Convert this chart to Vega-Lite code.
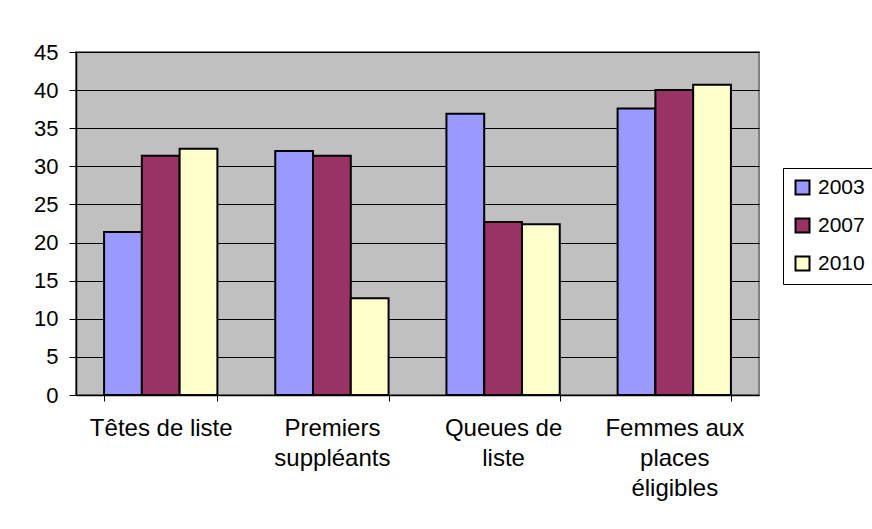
{
  "$schema": "https://vega.github.io/schema/vega-lite/v6.json",
  "autosize": "none",
  "width": 683,
  "height": 343,
  "padding": {"left": 76, "top": 52, "right": 113, "bottom": 134},
  "background": "white",
  "config": {
    "font": "Liberation Sans",
    "view": {"fill": "#C0C0C0", "stroke": "#808080", "strokeWidth": 2}
  },
  "data": {
    "values": [
      {"categorie": "Têtes de liste", "annee": "2003", "valeur": 21.4},
      {"categorie": "Têtes de liste", "annee": "2007", "valeur": 31.4},
      {"categorie": "Têtes de liste", "annee": "2010", "valeur": 32.3},
      {"categorie": "Premiers suppléants", "annee": "2003", "valeur": 32.0},
      {"categorie": "Premiers suppléants", "annee": "2007", "valeur": 31.4},
      {"categorie": "Premiers suppléants", "annee": "2010", "valeur": 12.7},
      {"categorie": "Queues de liste", "annee": "2003", "valeur": 36.9},
      {"categorie": "Queues de liste", "annee": "2007", "valeur": 22.7},
      {"categorie": "Queues de liste", "annee": "2010", "valeur": 22.4},
      {"categorie": "Femmes aux places éligibles", "annee": "2003", "valeur": 37.6},
      {"categorie": "Femmes aux places éligibles", "annee": "2007", "valeur": 40.0},
      {"categorie": "Femmes aux places éligibles", "annee": "2010", "valeur": 40.7}
    ]
  },
  "mark": {"type": "bar", "stroke": "black", "strokeWidth": 2},
  "encoding": {
    "x": {
      "field": "categorie",
      "type": "nominal",
      "sort": null,
      "scale": {"paddingInner": 0.338, "paddingOuter": 0.164},
      "axis": {
        "title": null,
        "labelAngle": 0,
        "labelFontSize": 24,
        "labelColor": "black",
        "labelPadding": 15,
        "labelLineHeight": 30,
        "labelBaseline": "top",
        "labelExpr": "datum.value == 'Premiers suppléants' ? ['Premiers', 'suppléants'] : datum.value == 'Queues de liste' ? ['Queues de', 'liste'] : datum.value == 'Femmes aux places éligibles' ? ['Femmes aux', 'places', 'éligibles'] : datum.value",
        "tickBand": "extent",
        "tickColor": "black",
        "tickSize": 6,
        "domainColor": "black",
        "domainWidth": 1.5,
        "grid": false
      }
    },
    "xOffset": {"field": "annee", "type": "nominal", "scale": {"paddingInner": 0, "paddingOuter": 0}},
    "y": {
      "field": "valeur",
      "type": "quantitative",
      "scale": {"domain": [0, 45], "nice": false},
      "axis": {
        "title": null,
        "values": [0, 5, 10, 15, 20, 25, 30, 35, 40, 45],
        "labelFontSize": 22,
        "labelColor": "black",
        "labelPadding": 11,
        "tickColor": "black",
        "tickSize": 7,
        "domainColor": "black",
        "domainWidth": 1.5,
        "gridColor": "black",
        "gridWidth": 1,
        "gridOpacity": 1
      }
    },
    "fill": {
      "field": "annee",
      "type": "nominal",
      "scale": {"domain": ["2003", "2007", "2010"], "range": ["#9999FF", "#993366", "#FFFFCC"]},
      "legend": {
        "title": null,
        "orient": "none",
        "legendX": 707,
        "legendY": 116,
        "symbolType": "square",
        "symbolSize": 196,
        "symbolStrokeColor": "black",
        "symbolStrokeWidth": 2,
        "symbolOpacity": 1,
        "labelFontSize": 21,
        "labelColor": "black",
        "labelOffset": 5,
        "rowPadding": 15,
        "padding": 9,
        "strokeColor": "black",
        "fillColor": "white"
      }
    }
  }
}
